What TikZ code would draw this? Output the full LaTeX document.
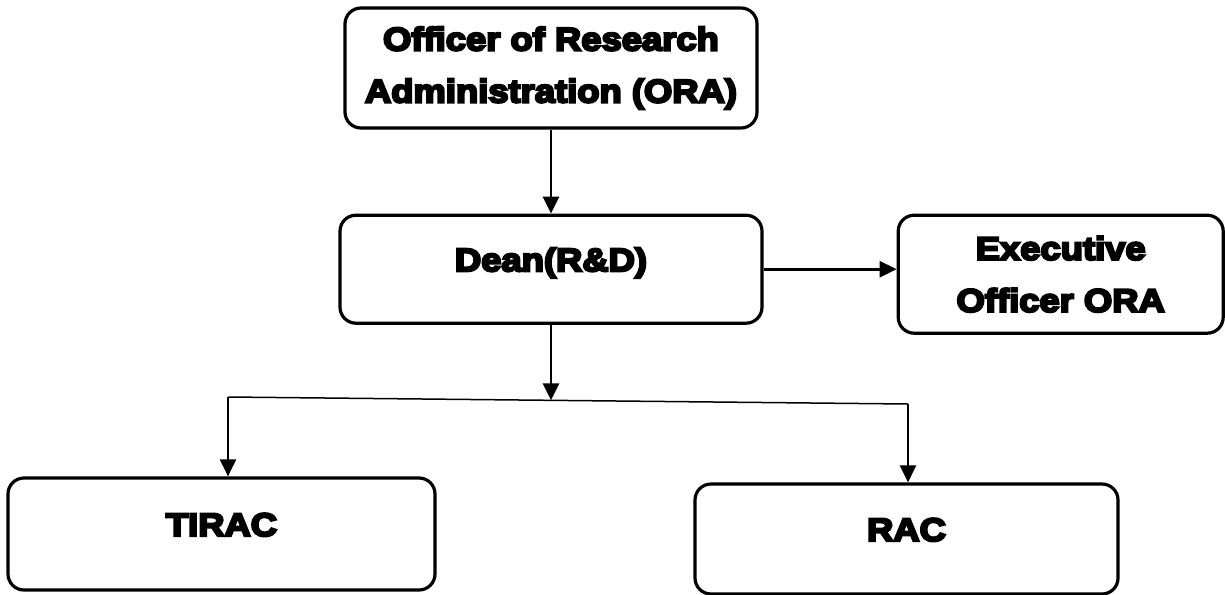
\documentclass[tikz,border=0pt]{standalone}
\usepackage{fontspec}
\setmainfont{Liberation Sans}[BoldFeatures={FakeBold=7,FakeStretch=1.12}]
\usetikzlibrary{arrows.meta,positioning}
\tikzstyle{unit}=[rectangle,draw,rounded corners=16pt,line width=3.2pt,align=center,font=\fontsize{32.5}{52}\selectfont\bfseries]
\tikzstyle{single}=[text height=23pt,text depth=19pt]
\tikzstyle{arr}=[-{Triangle[width=16pt,length=17pt]},line width=2.6pt]
\tikzstyle{link}=[line width=1.5pt]

\begin{document}
\begin{tikzpicture}[x=1pt,y=-1pt]
\useasboundingbox (0,0) rectangle (1225,594);
\node[unit,minimum width=412pt,minimum height=120pt] (ora) at (551,68) {Officer of Research\\Administration (ORA)};
\node[unit,single,minimum width=422pt,minimum height=108pt,below=84pt of ora] (dean) {Dean(R\&D)};
\node[unit,minimum width=325pt,minimum height=118pt,right=133pt of dean,yshift=-5pt] (exec) {Executive\\Officer ORA};
\node[unit,single,minimum width=427pt,minimum height=112pt] (tirac) at (221.5,534) {TIRAC};
\node[unit,single,minimum width=423pt,minimum height=110pt] (rac) at (906.5,539) {RAC};
\coordinate (splitL) at (228,397);
\coordinate (splitR) at (908,404);
\coordinate (splitM) at (552,400.3);
\draw[arr] (ora) -- (dean);
\draw[arr] (dean.east) -- (dean.east -| exec.west);
\draw[arr] (dean.south) -- (dean.south |- splitM);
\draw[link] (splitL) -- (splitR);
\draw[arr] (splitL) -- (splitL |- tirac.north);
\draw[arr] (splitR) -- (splitR |- rac.north);
\end{tikzpicture}
\end{document}
